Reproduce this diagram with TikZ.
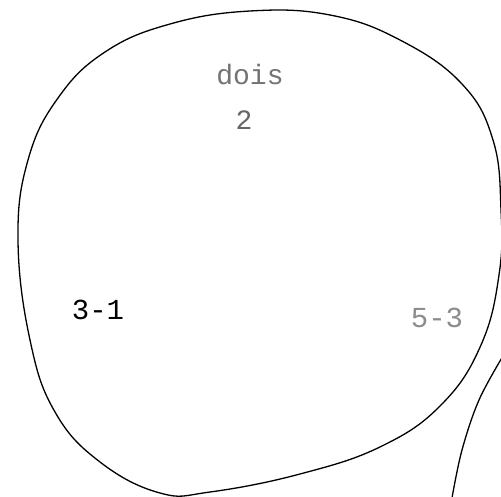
\documentclass[tikz,border=0pt]{standalone}
\usepackage{fontspec}
\newfontfamily\mono{Liberation Mono}
\begin{document}
\begin{tikzpicture}[x=1pt,y=-1pt,
  outline/.style={line width=1.3pt, line join=round, line cap=round},
  lbl/.style={inner sep=0pt, font=\mono\fontsize{28}{30}\selectfont},
  hlbl/.style={inner sep=0pt, font=\mono\fontsize{29}{30}\selectfont}]
\useasboundingbox[fill=white] (0,0) rectangle (501,496);
\clip (0,0) rectangle (501,496);
\draw[outline] plot[smooth cycle, tension=0.7] coordinates {
 (250,11) (330,15) (400,40) (462,84) (493,140) (501,210) (499,275) (481,345)
 (442,404) (382,446) (300,474) (210,492) (160,493) (100,462) (55,412) (30,340)
 (18,240) (28,160) (58,98) (105,52) (170,24)};
\draw[outline] plot[smooth, tension=0.6] coordinates {(503,356) (479,400) (462,450) (452,498)};
\node[lbl, text=black!55] (dois) at (250,75) {dois};
\node[lbl, text=black!60] (two) at (244,120) {2};
\node[hlbl, text=black] (a) at (98,310) {3-1};
\node[hlbl, text=black!45] (b) at (437,318) {5-3};
\end{tikzpicture}
\end{document}
